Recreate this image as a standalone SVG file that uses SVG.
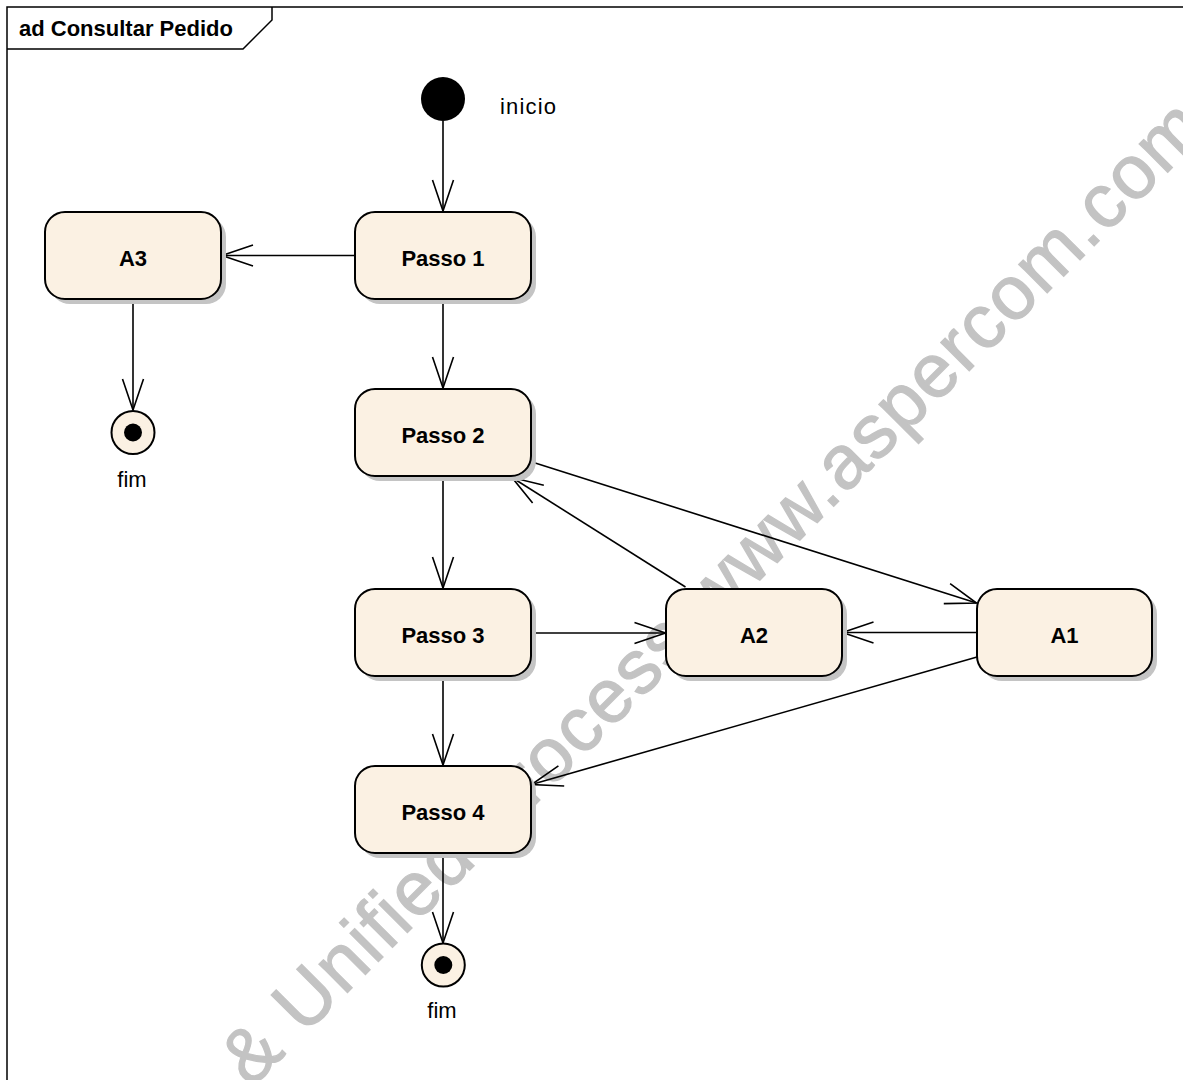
<svg xmlns="http://www.w3.org/2000/svg" width="1183" height="1080" viewBox="0 0 1183 1080">
<style>
  .sh { fill: #c4c4c4; }
  .box { fill: #FBF1E3; stroke: #000; stroke-width: 2; }
  .lbl { font-family: "Liberation Sans", Arial, sans-serif; font-size: 22px; font-weight: bold; text-anchor: middle; fill: #000; }
  .cap { font-family: "Liberation Sans", Arial, sans-serif; font-size: 22px; fill: #000; }
  .title { font-family: "Liberation Sans", Arial, sans-serif; font-size: 22px; font-weight: bold; fill: #000; }
  .edge { stroke: #000; stroke-width: 1.6; fill: none; marker-end: url(#arr); }
  .wm { font-family: "Liberation Sans", Arial, sans-serif; font-size: 76px; fill: #c3c3c3; stroke: #c3c3c3; stroke-width: 1.2; letter-spacing: 1.5px; }
  .frame { stroke: #000; stroke-width: 1.5; fill: none; }
</style>
<defs>
  <marker id="arr" markerUnits="userSpaceOnUse" viewBox="-34 -13 36 26" markerWidth="36" markerHeight="26" refX="0" refY="0" orient="auto" overflow="visible">
    <path d="M-31,-10.5 L0,0 L-31,10.5" fill="none" stroke="#000" stroke-width="1.6"/>
  </marker>
</defs>
<rect x="0" y="0" width="1183" height="1080" fill="#fff"/>
<g id="watermark">
  <text class="wm" x="251" y="1089" transform="rotate(-45 251 1089)">&amp; Unified Process www.aspercom.com</text>
</g>
<g id="frame">
  <path class="frame" d="M7,1080 V7 H1183"/>
  <path class="frame" d="M7,49 H243 L272,20 V7"/>
  <text class="title" x="19" y="36">ad Consultar Pedido</text>
</g>
<g id="connectors">
  <path class="edge" d="M443,121 L443,211"/>
  <path class="edge" d="M355,255.5 L222,255.5"/>
  <path class="edge" d="M133,299 L133,410"/>
  <path class="edge" d="M443,299 L443,388"/>
  <path class="edge" d="M443,476 L443,588"/>
  <path class="edge" d="M443,676 L443,765"/>
  <path class="edge" d="M443,853 L443,943"/>
  <path class="edge" d="M531,633 L665.5,633"/>
  <path class="edge" d="M977,632.5 L842.5,632.5"/>
  <path class="edge" d="M532,462 L976.5,603"/>
  <path class="edge" d="M685.5,587 L512,477.5"/>
  <path class="edge" d="M977,657 L531.5,784.5"/>
</g>
<g id="inicio">
  <circle cx="443" cy="99" r="22" fill="#000"/>
  <text class="cap" x="500" y="114" textLength="56" lengthAdjust="spacing">inicio</text>
</g>
<g id="passo1">
  <rect class="sh" x="360" y="217" width="176" height="87" rx="20"/>
  <rect class="box" x="355" y="212" width="176" height="87" rx="20"/>
  <text class="lbl" x="443" y="266">Passo 1</text>
</g>
<g id="a3">
  <rect class="sh" x="50" y="217" width="176" height="87" rx="20"/>
  <rect class="box" x="45" y="212" width="176" height="87" rx="20"/>
  <text class="lbl" x="133" y="266">A3</text>
</g>
<g id="fim1">
  <circle cx="133" cy="432.5" r="21.5" fill="#FBF1E3" stroke="#000" stroke-width="2"/>
  <circle cx="133" cy="432.5" r="9" fill="#000"/>
  <text class="cap" x="132" y="487" text-anchor="middle">fim</text>
</g>
<g id="passo2">
  <rect class="sh" x="360" y="394" width="176" height="87" rx="20"/>
  <rect class="box" x="355" y="389" width="176" height="87" rx="20"/>
  <text class="lbl" x="443" y="443">Passo 2</text>
</g>
<g id="passo3">
  <rect class="sh" x="360" y="594" width="176" height="87" rx="20"/>
  <rect class="box" x="355" y="589" width="176" height="87" rx="20"/>
  <text class="lbl" x="443" y="643">Passo 3</text>
</g>
<g id="a2">
  <rect class="sh" x="671" y="594" width="176" height="87" rx="20"/>
  <rect class="box" x="666" y="589" width="176" height="87" rx="20"/>
  <text class="lbl" x="754" y="643">A2</text>
</g>
<g id="a1">
  <rect class="sh" x="982" y="594" width="175" height="87" rx="20"/>
  <rect class="box" x="977" y="589" width="175" height="87" rx="20"/>
  <text class="lbl" x="1064.5" y="643">A1</text>
</g>
<g id="passo4">
  <rect class="sh" x="360" y="771" width="176" height="87" rx="20"/>
  <rect class="box" x="355" y="766" width="176" height="87" rx="20"/>
  <text class="lbl" x="443" y="820">Passo 4</text>
</g>
<g id="fim2">
  <circle cx="443.3" cy="965" r="21.5" fill="#FBF1E3" stroke="#000" stroke-width="2"/>
  <circle cx="443.3" cy="965" r="9" fill="#000"/>
  <text class="cap" x="442" y="1018" text-anchor="middle">fim</text>
</g>
</svg>
